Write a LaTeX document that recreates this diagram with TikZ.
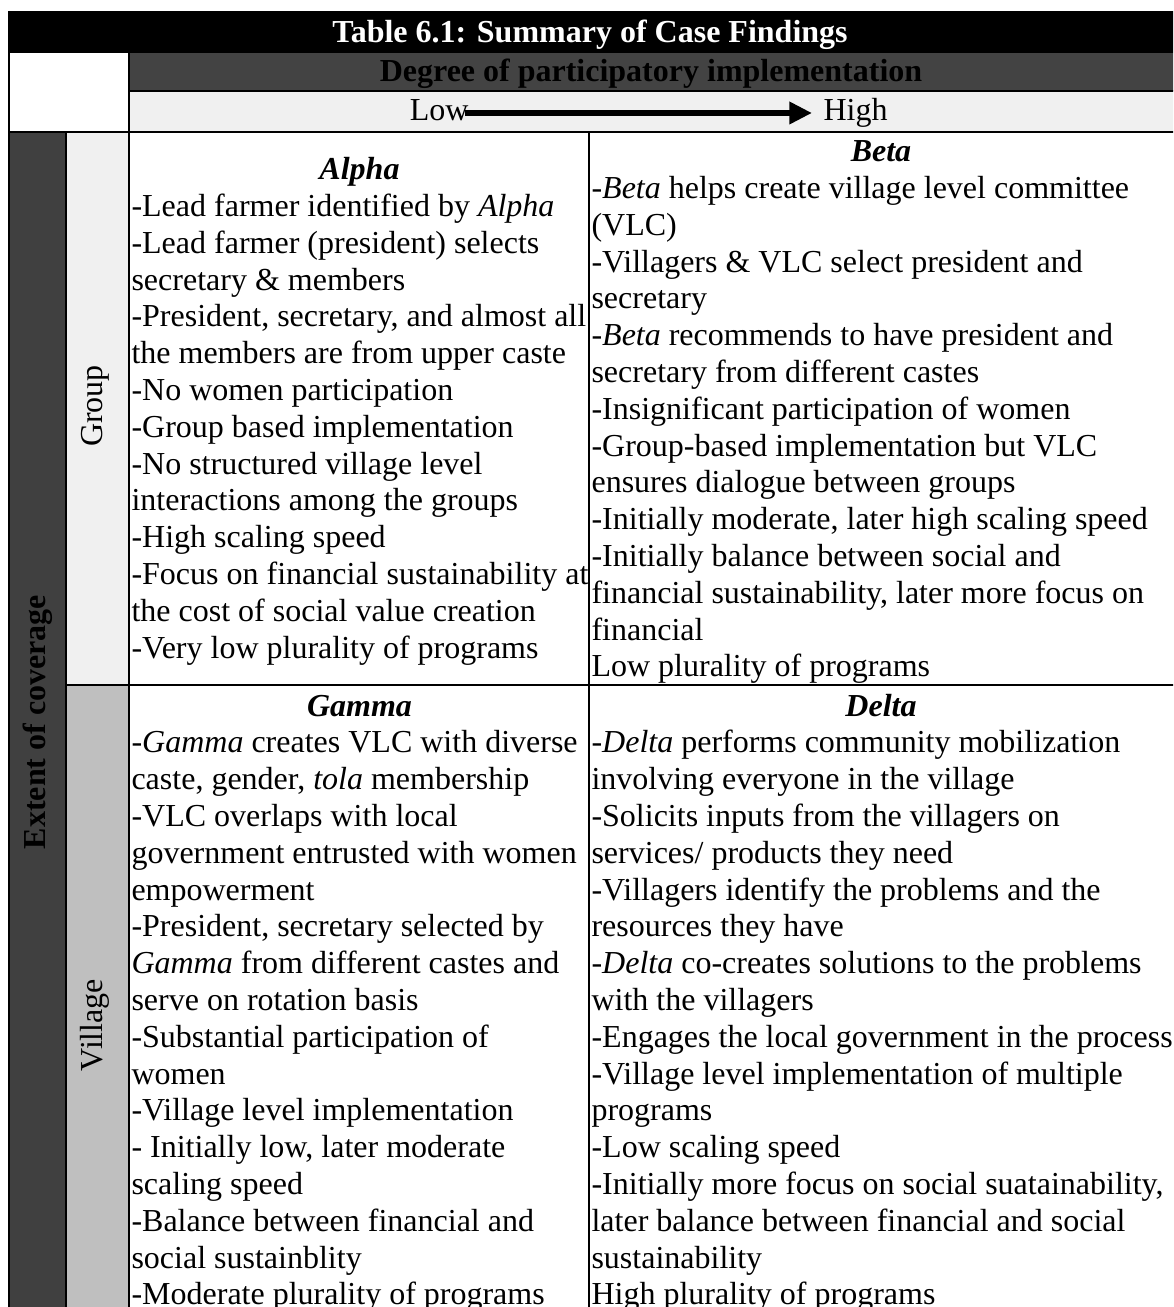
\documentclass[tikz,border=0pt]{standalone}
\usepackage{fontspec}
\setmainfont{Liberation Serif}
\usetikzlibrary{arrows.meta}
\definecolor{cHead}{HTML}{434343}
\definecolor{cLight}{HTML}{F0F0F0}
\definecolor{cDark}{HTML}{404040}
\definecolor{cVill}{HTML}{BFBFBF}
\tikzset{
  txt/.style={inner sep=0pt, font=\fontsize{12}{13.8}\selectfont},
  hdr/.style={inner sep=0pt, anchor=base, font=\fontsize{12}{13.8}\selectfont\bfseries\itshape},
  bodytxt/.style={inner sep=0pt, anchor=base west, font=\fontsize{12}{13.8}\selectfont},
  bold/.style={inner sep=0pt, anchor=base, font=\fontsize{12}{13.8}\selectfont\bfseries},
  gridline/.style={line width=0.75pt, black},
}
\begin{document}
\begin{tikzpicture}[x=0.375pt,y=-0.375pt]
\useasboundingbox (0,0) rectangle (1173,1307);
\clip (0,0) rectangle (1173,1307);
% backgrounds
\fill[black] (8,11) rectangle (1180,52.7);
\fill[cHead] (129,52.7) rectangle (1180,91);
\fill[cLight] (129,91) rectangle (1180,132);
\fill[cDark] (9,132) rectangle (66,1320);
\fill[cLight] (66,132) rectangle (129,685);
\fill[cVill] (66,685) rectangle (129,1320);
% grid lines
\draw[gridline] (9,11) -- (9,1320);
\draw[gridline] (129,52.7) -- (129,1320);
\draw[gridline] (129,91) -- (1180,91);
\draw[gridline] (9,132) -- (1180,132);
\draw[gridline] (66,132) -- (66,1320);
\draw[gridline] (589,132) -- (589,1320);
\draw[gridline] (66,685) -- (1180,685);
% header texts
\node[bold, text=white] (title) at (590,43) {Table 6.1: Summary of Case Findings};
\node[bold, text=black] (degree) at (651,82) {Degree of participatory implementation};
\node[txt, anchor=base east] (low) at (469,121) {Low};
\node[txt, anchor=base west] (high) at (823,121) {High};
\coordinate (arrS) at (465,113);
\coordinate (arrE) at (812,113);
\draw[line width=2.25pt, -{Triangle[length=8.5pt,width=8pt]}] (arrS) -- (arrE);
% side labels
\node[txt, font=\fontsize{12}{13.8}\selectfont\bfseries, rotate=90] (extent) at (37.5,722) {Extent of coverage};
\node[txt, rotate=90] (group) at (95,406) {Group};
\node[txt, rotate=90] (village) at (95,1025) {Village};
% Alpha
\node[hdr] (alphaH) at (359.5,179.7) {Alpha};
\node[bodytxt] (alphaB) at (131,216.5) {\parbox[t]{300pt}{\raggedright
-Lead farmer identified by \textit{Alpha}\\
-Lead farmer (president) selects\\
secretary \& members\\
-President, secretary, and almost all\\
the members are from upper caste\\
-No women participation\\
-Group based implementation\\
-No structured village level\\
interactions among the groups\\
-High scaling speed\\
-Focus on financial sustainability at\\
the cost of social value creation\\
-Very low plurality of programs}};
% Beta
\node[hdr] (betaH) at (881,161.8) {Beta};
\node[bodytxt] (betaB) at (591,198.6) {\parbox[t]{300pt}{\raggedright
-\textit{Beta} helps create village level committee\\
(VLC)\\
-Villagers \& VLC select president and\\
secretary\\
-\textit{Beta} recommends to have president and\\
secretary from different castes\\
-Insignificant participation of women\\
-Group-based implementation but VLC\\
ensures dialogue between groups\\
-Initially moderate, later high scaling speed\\
-Initially balance between social and\\
financial sustainability, later more focus on\\
financial\\
Low plurality of programs}};
% Gamma
\node[hdr] (gammaH) at (359.5,716) {Gamma};
\node[bodytxt] (gammaB) at (131,752.8) {\parbox[t]{300pt}{\raggedright
-\textit{Gamma} creates VLC with diverse\\
caste, gender, \textit{tola} membership\\
-VLC overlaps with local\\
government entrusted with women\\
empowerment\\
-President, secretary selected by\\
\textit{Gamma} from different castes and\\
serve on rotation basis\\
-Substantial participation of\\
women\\
-Village level implementation\\
- Initially low, later moderate\\
scaling speed\\
-Balance between financial and\\
social sustainblity\\
-Moderate plurality of programs}};
% Delta
\node[hdr] (deltaH) at (881,716) {Delta};
\node[bodytxt] (deltaB) at (591,752.8) {\parbox[t]{300pt}{\raggedright
-\textit{Delta} performs community mobilization\\
involving everyone in the village\\
-Solicits inputs from the villagers on\\
services/ products they need\\
-Villagers identify the problems and the\\
resources they have\\
-\textit{Delta} co-creates solutions to the problems\\
with the villagers\\
-Engages the local government in the process\\
-Village level implementation of multiple\\
programs\\
-Low scaling speed\\
-Initially more focus on social suatainability,\\
later balance between financial and social\\
sustainability\\
High plurality of programs}};
\end{tikzpicture}
\end{document}
